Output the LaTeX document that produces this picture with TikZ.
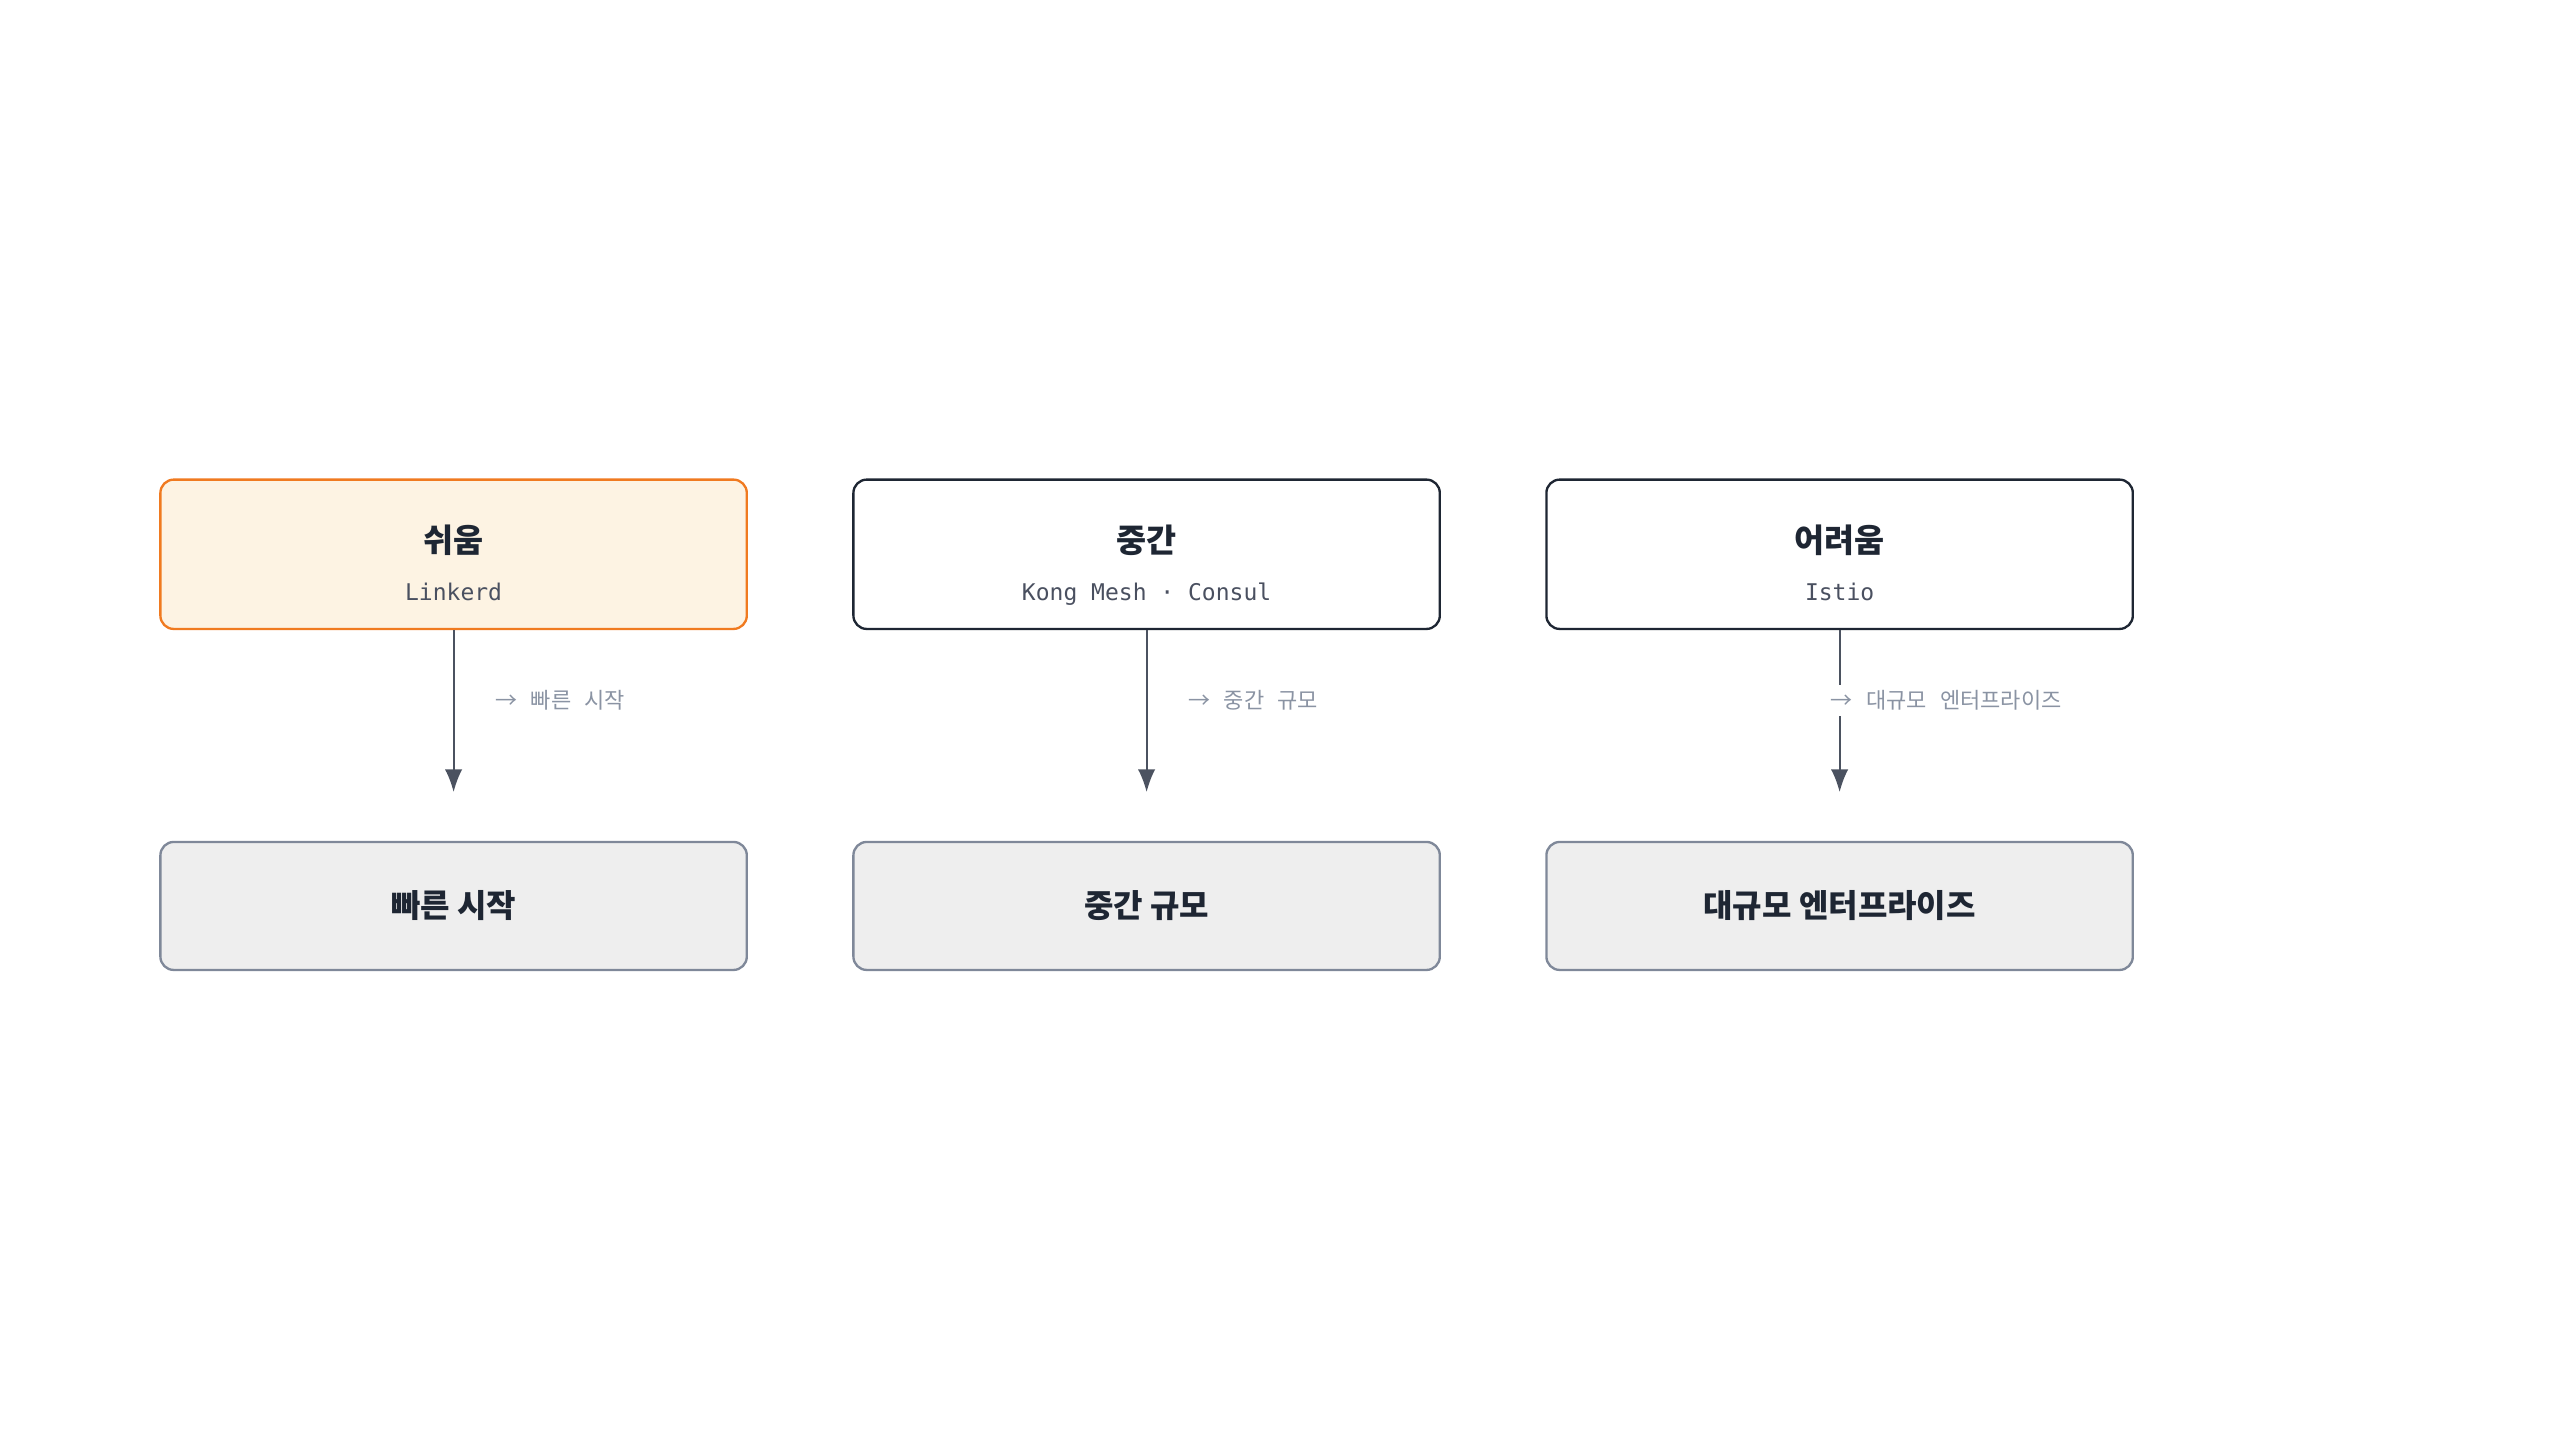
\documentclass[tikz,border=0pt]{standalone}
\usepackage{fontspec}
\setmainfont{Noto Sans CJK KR}
\setmonofont{DejaVu Sans Mono}
\newfontfamily\krfont{Noto Sans CJK KR}
\usepackage{tikz}
\usetikzlibrary{shapes,arrows.meta,positioning}
\definecolor{ink}{HTML}{1E2633}
\definecolor{easyorange}{HTML}{F07A20}
\definecolor{easycream}{HTML}{FDF3E3}
\definecolor{resgray}{HTML}{7F8899}
\definecolor{resfill}{HTML}{EEEEEE}
\definecolor{arrowgray}{HTML}{4B5260}
\definecolor{subgray}{HTML}{4A5060}
\definecolor{hintgray}{HTML}{8A93A3}
\newcommand{\kr}[1]{{\krfont #1}}
\newcommand{\sub}[1]{{\fontsize{17.25}{20}\selectfont\mdseries\ttfamily\color{subgray}#1}}
\tikzstyle{block} = [rectangle, draw=ink, line width=1.75pt, fill=white, text=ink, minimum width=439.8pt, minimum height=112pt, rounded corners=10pt, align=center, text height=70pt, text depth=0pt, font=\fontsize{24.5}{36}\selectfont\bfseries]
\tikzstyle{easyblock} = [block, draw=easyorange, fill=easycream]
\tikzstyle{result} = [rectangle, draw=resgray, line width=1.75pt, fill=resfill, text=ink, minimum width=439.8pt, minimum height=96pt, rounded corners=10pt, font=\fontsize{24}{28}\selectfont\bfseries]
\tikzstyle{line} = [draw=arrowgray, line width=1.5pt, -{Latex[length=17pt,width=13pt]}, shorten >=36.5pt]
\tikzstyle{hint} = [pos=0.335, xshift=80pt, fill=white, text=hintgray, inner xsep=3pt, inner ysep=4pt, font=\fontsize{16.5}{19}\selectfont\ttfamily]

\begin{document}
\begin{tikzpicture}
    \useasboundingbox (0,0) rectangle (1920pt,-1080pt);
    % Place nodes
    \node [easyblock] (easy) at (340.2pt,-415.7pt) {쉬움\\\sub{Linkerd}};
    \node [block, right=78.2pt of easy] (medium) {중간\\\sub{Kong Mesh · Consul}};
    \node [block, right=78.2pt of medium] (hard) {어려움\\\sub{Istio}};
    \node [result, below=158pt of easy] (quick) {빠른 시작};
    \node [result, below=158pt of medium] (midscale) {중간 규모};
    \node [result, below=158pt of hard] (enterprise) {대규모 엔터프라이즈};
    % Draw edges
    \path [line] (easy) -- (quick) node[hint] {\kr{→} \kr{빠른} \kr{시작}};
    \path [line] (medium) -- (midscale) node[hint] {\kr{→} \kr{중간} \kr{규모}};
    \path [line] (hard) -- (enterprise) node[hint] {\kr{→} \kr{대규모} \kr{엔터프라이즈}};
\end{tikzpicture}
\end{document}
